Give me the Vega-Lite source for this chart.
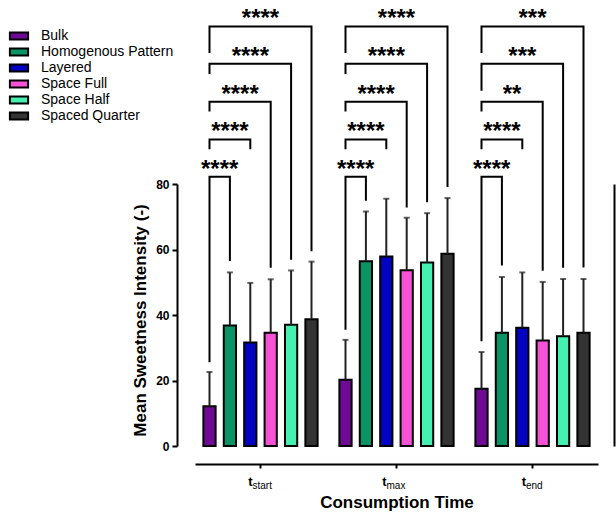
{
  "$schema": "https://vega.github.io/schema/vega-lite/v6.json",
  "width": 403,
  "height": 262,
  "autosize": {"type": "none"},
  "padding": {"left": 195, "top": 184, "right": 18, "bottom": 67},
  "background": "white",
  "config": {
    "view": {"stroke": null},
    "font": "Liberation Sans",
    "axis": {"grid": false, "domainColor": "black", "domainWidth": 2, "tickColor": "black", "tickWidth": 2, "labelColor": "black", "titleColor": "black"}
  },
  "datasets": {
    "bars": [
      {"time": "t_start", "series": "Bulk", "mean": 12.1, "upper": 22.6},
      {"time": "t_start", "series": "Homogenous Pattern", "mean": 36.8, "upper": 53.0},
      {"time": "t_start", "series": "Layered", "mean": 31.6, "upper": 49.8},
      {"time": "t_start", "series": "Space Full", "mean": 34.6, "upper": 50.9},
      {"time": "t_start", "series": "Space Half", "mean": 37.0, "upper": 53.6},
      {"time": "t_start", "series": "Spaced Quarter", "mean": 38.7, "upper": 56.3},
      {"time": "t_max", "series": "Bulk", "mean": 20.2, "upper": 32.4},
      {"time": "t_max", "series": "Homogenous Pattern", "mean": 56.4, "upper": 71.6},
      {"time": "t_max", "series": "Layered", "mean": 57.9, "upper": 75.5},
      {"time": "t_max", "series": "Space Full", "mean": 53.7, "upper": 69.7},
      {"time": "t_max", "series": "Space Half", "mean": 56.0, "upper": 71.1},
      {"time": "t_max", "series": "Spaced Quarter", "mean": 58.7, "upper": 75.7},
      {"time": "t_end", "series": "Bulk", "mean": 17.5, "upper": 28.7},
      {"time": "t_end", "series": "Homogenous Pattern", "mean": 34.6, "upper": 51.6},
      {"time": "t_end", "series": "Layered", "mean": 36.1, "upper": 53.0},
      {"time": "t_end", "series": "Space Full", "mean": 32.2, "upper": 50.1},
      {"time": "t_end", "series": "Space Half", "mean": 33.5, "upper": 51.0},
      {"time": "t_end", "series": "Spaced Quarter", "mean": 34.6, "upper": 51.0}
    ],
    "br": [
      {"time": "t_start", "target": "Homogenous Pattern", "series": "Bulk", "ord": 1, "val": 25.6},
      {"time": "t_start", "target": "Homogenous Pattern", "series": "Bulk", "ord": 2, "val": 82.2},
      {"time": "t_start", "target": "Homogenous Pattern", "series": "Homogenous Pattern", "ord": 3, "val": 82.2},
      {"time": "t_start", "target": "Homogenous Pattern", "series": "Homogenous Pattern", "ord": 4, "val": 56.5},
      {"time": "t_start", "target": "Layered", "series": "Bulk", "ord": 1, "val": 90.6},
      {"time": "t_start", "target": "Layered", "series": "Bulk", "ord": 2, "val": 93.6},
      {"time": "t_start", "target": "Layered", "series": "Layered", "ord": 3, "val": 93.6},
      {"time": "t_start", "target": "Layered", "series": "Layered", "ord": 4, "val": 90.6},
      {"time": "t_start", "target": "Space Full", "series": "Bulk", "ord": 1, "val": 102.1},
      {"time": "t_start", "target": "Space Full", "series": "Bulk", "ord": 2, "val": 105.1},
      {"time": "t_start", "target": "Space Full", "series": "Space Full", "ord": 3, "val": 105.1},
      {"time": "t_start", "target": "Space Full", "series": "Space Full", "ord": 4, "val": 54.4},
      {"time": "t_start", "target": "Space Half", "series": "Bulk", "ord": 1, "val": 113.6},
      {"time": "t_start", "target": "Space Half", "series": "Bulk", "ord": 2, "val": 116.7},
      {"time": "t_start", "target": "Space Half", "series": "Space Half", "ord": 3, "val": 116.7},
      {"time": "t_start", "target": "Space Half", "series": "Space Half", "ord": 4, "val": 56.9},
      {"time": "t_start", "target": "Spaced Quarter", "series": "Bulk", "ord": 1, "val": 120.0},
      {"time": "t_start", "target": "Spaced Quarter", "series": "Bulk", "ord": 2, "val": 128.1},
      {"time": "t_start", "target": "Spaced Quarter", "series": "Spaced Quarter", "ord": 3, "val": 128.1},
      {"time": "t_start", "target": "Spaced Quarter", "series": "Spaced Quarter", "ord": 4, "val": 59.5},
      {"time": "t_max", "target": "Homogenous Pattern", "series": "Bulk", "ord": 1, "val": 35.5},
      {"time": "t_max", "target": "Homogenous Pattern", "series": "Bulk", "ord": 2, "val": 82.2},
      {"time": "t_max", "target": "Homogenous Pattern", "series": "Homogenous Pattern", "ord": 3, "val": 82.2},
      {"time": "t_max", "target": "Homogenous Pattern", "series": "Homogenous Pattern", "ord": 4, "val": 74.9},
      {"time": "t_max", "target": "Layered", "series": "Bulk", "ord": 1, "val": 90.6},
      {"time": "t_max", "target": "Layered", "series": "Bulk", "ord": 2, "val": 93.6},
      {"time": "t_max", "target": "Layered", "series": "Layered", "ord": 3, "val": 93.6},
      {"time": "t_max", "target": "Layered", "series": "Layered", "ord": 4, "val": 90.6},
      {"time": "t_max", "target": "Space Full", "series": "Bulk", "ord": 1, "val": 102.1},
      {"time": "t_max", "target": "Space Full", "series": "Bulk", "ord": 2, "val": 105.1},
      {"time": "t_max", "target": "Space Full", "series": "Space Full", "ord": 3, "val": 105.1},
      {"time": "t_max", "target": "Space Full", "series": "Space Full", "ord": 4, "val": 72.8},
      {"time": "t_max", "target": "Space Half", "series": "Bulk", "ord": 1, "val": 113.6},
      {"time": "t_max", "target": "Space Half", "series": "Bulk", "ord": 2, "val": 116.7},
      {"time": "t_max", "target": "Space Half", "series": "Space Half", "ord": 3, "val": 116.7},
      {"time": "t_max", "target": "Space Half", "series": "Space Half", "ord": 4, "val": 74.4},
      {"time": "t_max", "target": "Spaced Quarter", "series": "Bulk", "ord": 1, "val": 120.0},
      {"time": "t_max", "target": "Spaced Quarter", "series": "Bulk", "ord": 2, "val": 128.1},
      {"time": "t_max", "target": "Spaced Quarter", "series": "Spaced Quarter", "ord": 3, "val": 128.1},
      {"time": "t_max", "target": "Spaced Quarter", "series": "Spaced Quarter", "ord": 4, "val": 79.1},
      {"time": "t_end", "target": "Homogenous Pattern", "series": "Bulk", "ord": 1, "val": 32.0},
      {"time": "t_end", "target": "Homogenous Pattern", "series": "Bulk", "ord": 2, "val": 82.2},
      {"time": "t_end", "target": "Homogenous Pattern", "series": "Homogenous Pattern", "ord": 3, "val": 82.2},
      {"time": "t_end", "target": "Homogenous Pattern", "series": "Homogenous Pattern", "ord": 4, "val": 55.1},
      {"time": "t_end", "target": "Layered", "series": "Bulk", "ord": 1, "val": 90.6},
      {"time": "t_end", "target": "Layered", "series": "Bulk", "ord": 2, "val": 93.6},
      {"time": "t_end", "target": "Layered", "series": "Layered", "ord": 3, "val": 93.6},
      {"time": "t_end", "target": "Layered", "series": "Layered", "ord": 4, "val": 90.6},
      {"time": "t_end", "target": "Space Full", "series": "Bulk", "ord": 1, "val": 102.1},
      {"time": "t_end", "target": "Space Full", "series": "Bulk", "ord": 2, "val": 105.1},
      {"time": "t_end", "target": "Space Full", "series": "Space Full", "ord": 3, "val": 105.1},
      {"time": "t_end", "target": "Space Full", "series": "Space Full", "ord": 4, "val": 53.5},
      {"time": "t_end", "target": "Space Half", "series": "Bulk", "ord": 1, "val": 108.5},
      {"time": "t_end", "target": "Space Half", "series": "Bulk", "ord": 2, "val": 116.7},
      {"time": "t_end", "target": "Space Half", "series": "Space Half", "ord": 3, "val": 116.7},
      {"time": "t_end", "target": "Space Half", "series": "Space Half", "ord": 4, "val": 54.4},
      {"time": "t_end", "target": "Spaced Quarter", "series": "Bulk", "ord": 1, "val": 120.0},
      {"time": "t_end", "target": "Spaced Quarter", "series": "Bulk", "ord": 2, "val": 128.1},
      {"time": "t_end", "target": "Spaced Quarter", "series": "Spaced Quarter", "ord": 3, "val": 128.1},
      {"time": "t_end", "target": "Spaced Quarter", "series": "Spaced Quarter", "ord": 4, "val": 54.5}
    ],
    "sig": [
      {"time": "t_start", "target": "Homogenous Pattern", "level": 82.2, "label": "****"},
      {"time": "t_start", "target": "Layered", "level": 93.6, "label": "****"},
      {"time": "t_start", "target": "Space Full", "level": 105.1, "label": "****"},
      {"time": "t_start", "target": "Space Half", "level": 116.7, "label": "****"},
      {"time": "t_start", "target": "Spaced Quarter", "level": 128.1, "label": "****"},
      {"time": "t_max", "target": "Homogenous Pattern", "level": 82.2, "label": "****"},
      {"time": "t_max", "target": "Layered", "level": 93.6, "label": "****"},
      {"time": "t_max", "target": "Space Full", "level": 105.1, "label": "****"},
      {"time": "t_max", "target": "Space Half", "level": 116.7, "label": "****"},
      {"time": "t_max", "target": "Spaced Quarter", "level": 128.1, "label": "****"},
      {"time": "t_end", "target": "Homogenous Pattern", "level": 82.2, "label": "****"},
      {"time": "t_end", "target": "Layered", "level": 93.6, "label": "****"},
      {"time": "t_end", "target": "Space Full", "level": 105.1, "label": "**"},
      {"time": "t_end", "target": "Space Half", "level": 116.7, "label": "***"},
      {"time": "t_end", "target": "Spaced Quarter", "level": 128.1, "label": "***"}
    ]
  },
  "resolve": {"axis": {"x": "independent", "y": "independent"}},
  "layer": [
    {
      "data": {"name": "bars"},
      "mark": {"type": "bar", "stroke": "black", "strokeWidth": 2},
      "encoding": {
        "x": {
          "field": "time", "type": "nominal",
          "scale": {"domain": ["t_start", "t_max", "t_end"], "paddingInner": 0.1, "paddingOuter": 0.0316},
          "axis": {
            "orient": "bottom", "offset": 18, "labelExpr": "'t'", "labelAngle": 0,
            "labelFontWeight": "bold", "labelFontSize": 13, "labelAlign": "right",
            "labelOffset": {"condition": [{"test": "datum.value == 't_max'", "value": -10}, {"test": "datum.value == 't_end'", "value": -6.5}], "value": -8},
            "labelPadding": 7, "tickSize": 4,
            "title": "Consumption Time", "titleFontSize": 17, "titleFontWeight": "bold", "titlePadding": 6
          }
        },
        "xOffset": {
          "field": "series", "type": "nominal",
          "scale": {"domain": ["Bulk", "Homogenous Pattern", "Layered", "Space Full", "Space Half", "Spaced Quarter"], "paddingInner": 0.4, "paddingOuter": 0.2}
        },
        "y": {
          "field": "mean", "type": "quantitative",
          "scale": {"domain": [0, 80], "nice": false},
          "axis": {
            "orient": "left", "offset": 18, "values": [0, 20, 40, 60, 80], "tickSize": 5, "labelPadding": 3,
            "labelFontSize": 12, "labelFontWeight": "bold",
            "title": "Mean  Sweetness  Intensity (-)", "titleFontSize": 17, "titleFontWeight": "bold", "titlePadding": 6, "titleY": 136
          }
        },
        "color": {
          "field": "series", "type": "nominal",
          "scale": {
            "domain": ["Bulk", "Homogenous Pattern", "Layered", "Space Full", "Space Half", "Spaced Quarter"],
            "range": ["#6f0a94", "#0a9466", "#0303c4", "#f552d6", "#45f0b0", "#333333"]
          },
          "legend": {
            "orient": "none", "legendX": -184, "legendY": -156, "title": null, "padding": 0,
            "symbolType": "M-1.3,-0.5H1.3V0.5H-1.3Z", "symbolSize": 196,
            "symbolStrokeColor": "black", "symbolStrokeWidth": 2, "symbolOpacity": 1,
            "labelFontSize": 14, "labelColor": "black", "labelOffset": 14, "rowPadding": 0
          }
        }
      }
    },
    {
      "data": {"name": "bars"},
      "mark": {"type": "rule", "color": "#222222", "strokeWidth": 2},
      "encoding": {
        "x": {
          "field": "time", "type": "nominal",
          "axis": {
            "orient": "bottom", "offset": 18, "domain": false, "ticks": false, "tickSize": 0,
            "labelExpr": "replace(datum.label, 't_', '')", "labelAngle": 0, "labelFontSize": 10,
            "labelAlign": "left",
            "labelOffset": {"condition": [{"test": "datum.value == 't_max'", "value": -10}, {"test": "datum.value == 't_end'", "value": -6.5}], "value": -8},
            "labelPadding": 16, "title": null
          }
        },
        "xOffset": {"field": "series", "type": "nominal"},
        "y": {"field": "mean", "type": "quantitative", "axis": {"orient": "right", "offset": 16, "labels": false, "ticks": false, "title": null}},
        "y2": {"field": "upper"}
      }
    },
    {
      "data": {"name": "bars"},
      "mark": {"type": "tick", "color": "#222222", "thickness": 2, "size": 6},
      "encoding": {
        "x": {"field": "time", "type": "nominal", "axis": null},
        "xOffset": {"field": "series", "type": "nominal"},
        "y": {"field": "upper", "type": "quantitative", "axis": null}
      }
    },
    {
      "data": {"name": "br"},
      "mark": {"type": "line", "color": "black", "strokeWidth": 2},
      "encoding": {
        "x": {"field": "time", "type": "nominal", "axis": null},
        "xOffset": {"field": "series", "type": "nominal"},
        "y": {"field": "val", "type": "quantitative", "axis": null},
        "detail": [{"field": "time"}, {"field": "target"}],
        "order": {"field": "ord"}
      }
    },
    {
      "data": {"name": "sig"},
      "transform": [{"filter": {"field": "target", "equal": "Homogenous Pattern"}}],
      "mark": {"type": "text", "font": "Liberation Sans", "fontWeight": "bold", "fontSize": 24, "baseline": "alphabetic", "dx": -10.2, "dy": 0, "color": "black"},
      "encoding": {
        "x": {"field": "time", "type": "nominal", "axis": null},
        "xOffset": {"field": "target", "type": "nominal"},
        "y": {"field": "level", "type": "quantitative", "axis": null},
        "text": {"field": "label"}
      }
    },
    {
      "data": {"name": "sig"},
      "transform": [{"filter": {"field": "target", "equal": "Layered"}}],
      "mark": {"type": "text", "font": "Liberation Sans", "fontWeight": "bold", "fontSize": 24, "baseline": "alphabetic", "dx": -20.4, "dy": 0, "color": "black"},
      "encoding": {
        "x": {"field": "time", "type": "nominal", "axis": null},
        "xOffset": {"field": "target", "type": "nominal"},
        "y": {"field": "level", "type": "quantitative", "axis": null},
        "text": {"field": "label"}
      }
    },
    {
      "data": {"name": "sig"},
      "transform": [{"filter": {"field": "target", "equal": "Space Full"}}],
      "mark": {"type": "text", "font": "Liberation Sans", "fontWeight": "bold", "fontSize": 24, "baseline": "alphabetic", "dx": -30.6, "dy": 0, "color": "black"},
      "encoding": {
        "x": {"field": "time", "type": "nominal", "axis": null},
        "xOffset": {"field": "target", "type": "nominal"},
        "y": {"field": "level", "type": "quantitative", "axis": null},
        "text": {"field": "label"}
      }
    },
    {
      "data": {"name": "sig"},
      "transform": [{"filter": {"field": "target", "equal": "Space Half"}}],
      "mark": {"type": "text", "font": "Liberation Sans", "fontWeight": "bold", "fontSize": 24, "baseline": "alphabetic", "dx": -40.8, "dy": 0, "color": "black"},
      "encoding": {
        "x": {"field": "time", "type": "nominal", "axis": null},
        "xOffset": {"field": "target", "type": "nominal"},
        "y": {"field": "level", "type": "quantitative", "axis": null},
        "text": {"field": "label"}
      }
    },
    {
      "data": {"name": "sig"},
      "transform": [{"filter": {"field": "target", "equal": "Spaced Quarter"}}],
      "mark": {"type": "text", "font": "Liberation Sans", "fontWeight": "bold", "fontSize": 24, "baseline": "alphabetic", "dx": -51, "dy": 0, "color": "black"},
      "encoding": {
        "x": {"field": "time", "type": "nominal", "axis": null},
        "xOffset": {"field": "target", "type": "nominal"},
        "y": {"field": "level", "type": "quantitative", "axis": null},
        "text": {"field": "label"}
      }
    }
  ]
}
